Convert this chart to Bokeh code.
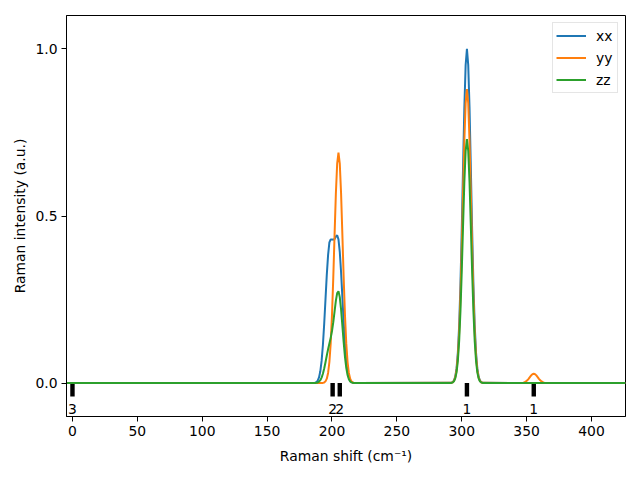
from bokeh.plotting import figure
from bokeh.models import Range1d, FixedTicker, NumeralTickFormatter, ColumnDataSource
from bokeh.core.properties import value
from bokeh.embed import file_html
from bokeh.resources import INLINE

# ---- data ----
x_limits = [-4.6, 426.2]

mode_freqs = [0.0, 200.5, 206.0, 304.0, 355.5]
mode_degeneracy = ["3", "2", "2", "1", "1"]

shift_band1 = [186, 187, 188, 189, 190, 191, 192, 193, 194, 195, 196, 197, 198, 199, 200,
               201, 202, 203, 204, 205, 206, 207, 208, 209, 210, 211, 212, 213, 214, 215,
               216, 217, 218]
xx_band1 = [0.0003, 0.0011, 0.0029, 0.0074, 0.0169, 0.0352, 0.0663, 0.1139, 0.1774, 0.2509,
            0.3245, 0.3838, 0.4211, 0.4300, 0.4300, 0.4290, 0.4310, 0.4387, 0.4422, 0.4302,
            0.3929, 0.3325, 0.2573, 0.1819, 0.1168, 0.0679, 0.0361, 0.0173, 0.0076, 0.0030,
            0.0011, 0.0003, 0.0]
yy_band1 = [0.0, 0.0, 0.0, 0.0, 0.0, 0.0001, 0.0002, 0.0006, 0.0019, 0.0052,
            0.0132, 0.0303, 0.0631, 0.1187, 0.2036, 0.3160, 0.4444, 0.5679, 0.6569, 0.6900,
            0.6569, 0.5679, 0.4444, 0.3160, 0.2036, 0.1187, 0.0631, 0.0303, 0.0132, 0.0052,
            0.0019, 0.0006, 0.0002]
zz_band1 = [0.0001, 0.0003, 0.0007, 0.0018, 0.0041, 0.0086, 0.0163, 0.0280, 0.0438, 0.0625,
            0.0825, 0.1012, 0.1183, 0.1353, 0.1559, 0.1823, 0.2144, 0.2466, 0.2694, 0.2746,
            0.2573, 0.2207, 0.1720, 0.1221, 0.0785, 0.0458, 0.0243, 0.0117, 0.0051, 0.0020,
            0.0007, 0.0002, 0.0001]

shift_band2 = [292, 293, 294, 295, 296, 297, 298, 299, 300, 301, 302, 303, 304,
               305, 306, 307, 308, 309, 310, 311, 312, 313, 314, 315, 316]
xx_band2 = [0.0009, 0.0027, 0.0076, 0.0192, 0.0439, 0.0914, 0.172, 0.295, 0.458, 0.644, 0.823, 0.952, 1.0,
            0.952, 0.823, 0.644, 0.458, 0.295, 0.172, 0.0914, 0.0439, 0.0192, 0.0076, 0.0027, 0.0009]
yy_band2 = [0.0008, 0.0024, 0.0067, 0.0169, 0.0386, 0.0804, 0.1514, 0.2596, 0.4030, 0.5667, 0.7242, 0.8378, 0.88,
            0.8378, 0.7242, 0.5667, 0.4030, 0.2596, 0.1514, 0.0804, 0.0386, 0.0169, 0.0067, 0.0024, 0.0008]
zz_band2 = [0.0006, 0.0020, 0.0055, 0.0140, 0.0320, 0.0667, 0.1256, 0.2154, 0.3343, 0.4701, 0.6008, 0.6950, 0.73,
            0.6950, 0.6008, 0.4701, 0.3343, 0.2154, 0.1256, 0.0667, 0.0320, 0.0140, 0.0055, 0.0020, 0.0006]

shift_band3 = [345.5, 346.5, 347.5, 348.5, 349.5, 350.5, 351.5, 352.5, 353.5, 354.5, 355.5,
               356.5, 357.5, 358.5, 359.5, 360.5, 361.5, 362.5, 363.5, 364.5, 365.5]
xx_band3 = [0.0, 0.0, 0.0, 0.0, 0.0, 0.0, 0.0, 0.0, 0.0, 0.0, 0.0,
            0.0, 0.0, 0.0, 0.0, 0.0, 0.0, 0.0, 0.0, 0.0, 0.0]
yy_band3 = [0.0002, 0.0005, 0.0012, 0.0026, 0.0048, 0.0083, 0.0128, 0.0180, 0.0230, 0.0267, 0.028,
            0.0267, 0.0230, 0.0180, 0.0128, 0.0083, 0.0048, 0.0026, 0.0012, 0.0005, 0.0002]
zz_band3 = [0.0, 0.0, 0.0, 0.0, 0.0, 0.0, 0.0, 0.0, 0.0, 0.0, 0.0,
            0.0, 0.0, 0.0, 0.0, 0.0, 0.0, 0.0, 0.0, 0.0, 0.0]

x_ticks = [0, 50, 100, 150, 200, 250, 300, 350, 400]
y_ticks = [0.0, 0.5, 1.0]

series_names = ["xx", "yy", "zz"]
series_colors = ["#1f77b4", "#ff7f0e", "#2ca02c"]

# ---- assemble ----
shift = [x_limits[0]] + shift_band1 + shift_band2 + shift_band3 + [x_limits[1]]
series = {
    "xx": [0.0] + xx_band1 + xx_band2 + xx_band3 + [0.0],
    "yy": [0.0] + yy_band1 + yy_band2 + yy_band3 + [0.0],
    "zz": [0.0] + zz_band1 + zz_band2 + zz_band3 + [0.0],
}

FONT = "DejaVu Sans"
FS = "13.9px"

p = figure(width=633, height=473,
           x_range=Range1d(x_limits[0], x_limits[1]),
           y_range=Range1d(-0.1, 1.1),
           output_backend="svg", toolbar_location=None,
           min_border_left=66, min_border_right=8, min_border_top=15, min_border_bottom=57)

p.background_fill_color = "white"
p.border_fill_color = "white"
p.outline_line_color = "black"
p.outline_line_width = 1
p.outline_line_alpha = 1.0
p.xgrid.visible = False
p.ygrid.visible = False

for ax in (p.xaxis, p.yaxis):
    ax.axis_line_color = "black"
    ax.major_tick_line_color = "black"
    ax.major_tick_in = 0
    ax.major_tick_out = 5
    ax.minor_tick_line_color = None
    ax.major_label_text_font = FONT
    ax.major_label_text_font_size = FS
    ax.major_label_text_color = "black"
    ax.axis_label_text_font = FONT
    ax.axis_label_text_font_size = FS
    ax.axis_label_text_font_style = "normal"
    ax.axis_label_text_color = "black"

p.xaxis.ticker = FixedTicker(ticks=x_ticks)
p.yaxis.ticker = FixedTicker(ticks=y_ticks)
p.yaxis.formatter = NumeralTickFormatter(format="0.0")
p.xaxis.major_label_standoff = 4
p.yaxis.major_label_standoff = 4
p.xaxis.axis_label = "Raman shift (cm\u207b\u00b9)"
p.yaxis.axis_label = "Raman intensity (a.u.)"
p.xaxis.axis_label_standoff = 9
p.yaxis.axis_label_standoff = 4

# mode markers
modes = ColumnDataSource(dict(x=mode_freqs, label=mode_degeneracy,
                              top=[0.0] * len(mode_freqs), bottom=[-0.04] * len(mode_freqs),
                              ly=[-0.078] * len(mode_freqs)))
p.vbar(x="x", top="top", bottom="bottom", width=3.4, source=modes,
       fill_color="black", line_color=None)
p.text(x="x", y="ly", text="label", source=modes, text_font=value(FONT),
       text_font_size=FS, text_align="center", text_baseline="middle", text_color="black")

for name, color in zip(series_names, series_colors):
    p.line(shift, series[name], line_color=color, line_width=2, legend_label=name)

lg = p.legend[0]
lg.location = "top_right"
lg.margin = 7
lg.padding = 3
lg.spacing = 3
lg.glyph_width = 30
lg.glyph_height = 19
lg.label_height = 19
lg.label_width = 18
lg.label_standoff = 10
lg.label_text_font = FONT
lg.label_text_font_size = FS
lg.label_text_color = "black"
lg.border_line_color = "#cccccc"
lg.border_line_width = 1
lg.background_fill_alpha = 0.8

open("out.html", "w").write(file_html(p, INLINE))
